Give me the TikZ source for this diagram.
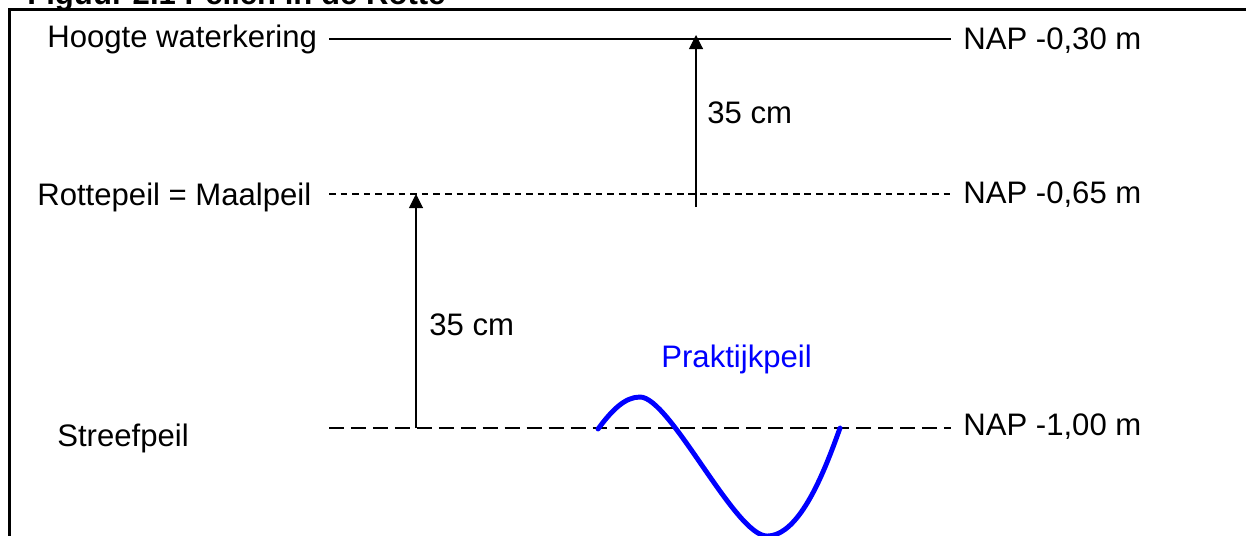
\documentclass[tikz,border=0pt]{standalone}
\usepackage{fontspec}
\setmainfont{Liberation Sans}
\usetikzlibrary{arrows.meta}
\tikzstyle{peiltekst} = [anchor=base west, inner sep=0pt, font=\fontsize{17.7}{21}\selectfont]
\tikzstyle{kader} = [line width=1.9pt]
\tikzstyle{peillijn} = [line width=0.85pt]
\tikzstyle{maallijn} = [line width=0.85pt, dash pattern=on 3.8pt off 2.8pt]
\tikzstyle{streeflijn} = [line width=0.85pt, dash pattern=on 8.5pt off 4pt]
\tikzstyle{pijl} = [line width=0.6pt, -{Triangle[length=8pt, width=8pt]}]
\tikzstyle{praktijklijn} = [line width=2.8pt, blue, line cap=round]

\begin{document}
\begin{tikzpicture}[x=0.02cm, y=-0.02cm]
\useasboundingbox (0,0) rectangle (1246,535);

% Kader en titel
\draw [kader] (9.5,560) -- (9.5,9.5) -- (1270,9.5);
\node (titel) [peiltekst, font=\fontsize{17.7}{21}\selectfont\bfseries] at (27,4) {Figuur 2.1 Peilen in de Rotte};

% Teksten
\node (hoogte) [peiltekst] at (47,47) {Hoogte waterkering};
\node (nap030) [peiltekst] at (963,49) {NAP -0,30 m};
\node (rotte) [peiltekst] at (37,205) {Rottepeil = Maalpeil};
\node (nap065) [peiltekst] at (963,203) {NAP -0,65 m};
\node (streef) [peiltekst] at (57,446) {Streefpeil};
\node (nap100) [peiltekst] at (963,435) {NAP -1,00 m};
\node (maat1) [peiltekst] at (707,123) {35 cm};
\node (maat2) [peiltekst] at (429,335) {35 cm};
\node (praktijk) [peiltekst, text=blue] at (661,367) {Praktijkpeil};

% Peillijnen
\coordinate (h1) at (329,39);
\coordinate (h2) at (951,39);
\coordinate (r1) at (329,194);
\coordinate (r2) at (951,194);
\coordinate (s1) at (329,428);
\coordinate (s2) at (951,428);
\draw [peillijn] (h1) -- (h2);
\draw [maallijn] (r1) -- (r2);
\draw [streeflijn] (s1) -- (s2);

% Pijlen
\coordinate (a1) at (696,207);
\coordinate (a2) at (696,35);
\coordinate (b1) at (416,428);
\coordinate (b2) at (416,194);
\draw [pijl] (a1) -- (a2);
\draw [pijl] (b1) -- (b2);

% Praktijkpeil
\draw [praktijklijn] (598,429) .. controls (612,410) and (625,397) .. (640,397)
  .. controls (670,397) and (735,536) .. (767,536)
  .. controls (800,536) and (825,470) .. (840,428);

\end{tikzpicture}
\end{document}
